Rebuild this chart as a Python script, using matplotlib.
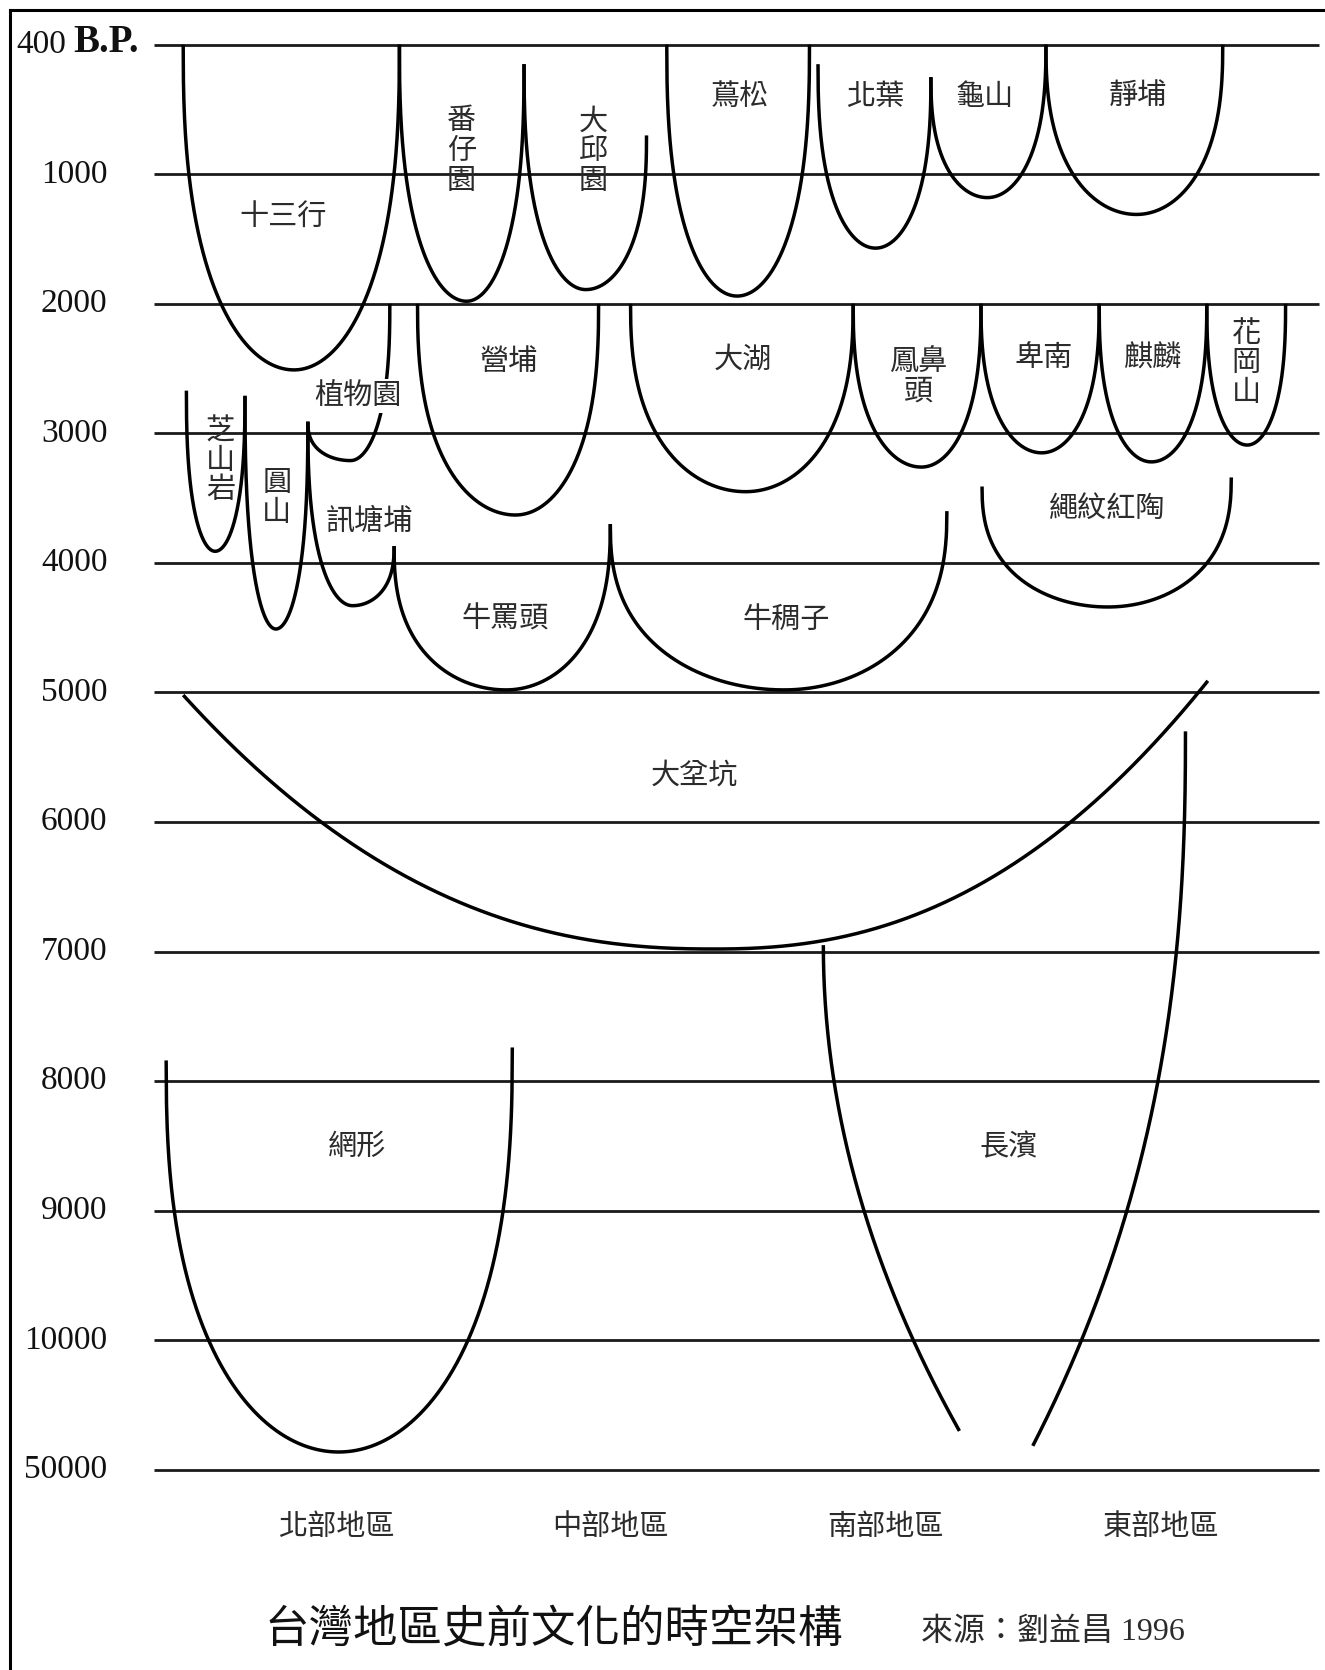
import numpy as np
import matplotlib
matplotlib.use("Agg")
import matplotlib.pyplot as plt
from matplotlib.lines import Line2D

# ---------------- data ----------------
bp_ticks = [400, 1000, 2000, 3000, 4000, 5000, 6000, 7000, 8000, 9000, 10000, 50000]
tick_labels = ["400", "1000", "2000", "3000", "4000", "5000",
               "6000", "7000", "8000", "9000", "10000", "50000"]

regions = ["北部地區", "中部地區", "南部地區", "東部地區"]
region_x = [316, 573, 831, 1090]

culture_names = ["十三行", "番仔園", "大邱園", "蔦松", "北葉", "龜山", "靜埔",
                 "植物園", "營埔", "大湖", "鳳鼻頭", "卑南", "麒麟", "花岡山",
                 "芝山岩", "圓山", "訊塘埔", "牛罵頭", "牛稠子", "繩紋紅陶",
                 "網形", "大坌坑", "長濱"]
x_left = [172, 375, 492, 626, 768, 874, 982,
          289, 392, 592, 801, 921, 1032, 1133,
          175, 230, 289, 370, 573, 922,
          156, 172, 773]
x_bottom = [276, 438, 550, 692, 822, 927, 1067,
            329, 484, 700, 865, 978, 1081, 1171,
            202, 259, 331, 475, 736, 1040,
            318, 670, 941]
x_right = [375, 492, 607, 760, 874, 982, 1148,
           366, 562, 801, 921, 1032, 1133, 1207,
           230, 289, 370, 573, 889, 1156,
           481, 1134, 1113]
bp_left_top = [400, 400, 490, 400, 490, 550, 400,
               2910, 2000, 2000, 2000, 2000, 2000, 2000,
               2670, 2710, 2910, 3870, 3700, 3410,
               7840, 5020, 6950]
bp_earliest = [2510, 1980, 1890, 1940, 1570, 1180, 1310,
               3210, 3630, 3450, 3260, 3150, 3220, 3090,
               3910, 4510, 4330, 4980, 4980, 4340,
               44500, 6980, 60000]
bp_right_top = [400, 490, 820, 400, 550, 400, 400,
                2000, 2000, 2000, 2000, 2000, 2000, 2000,
                2710, 2910, 3870, 3700, 3600, 3340,
                7740, 4910, 5300]
curve_kind = ["U"] * 21 + ["bowl", "open"]
# 長濱: arms drawn only down to these dates (open at the bottom)
open_end_bp = {"長濱": (38000, 42600)}

label_text = ["十三行", "番\n仔\n園", "大\n邱\n園", "蔦松", "北葉", "龜山", "靜埔",
              "植物園", "營埔", "大湖", "鳳鼻\n頭", "卑南", "麒麟", "花\n岡\n山",
              "芝\n山\n岩", "圓\n山", "訊塘埔", "牛罵頭", "牛稠子", "繩紋紅陶",
              "網形", "大坌坑", "長濱"]
label_x = [266, 433, 557, 695, 822, 924, 1068,
           336, 478, 697, 862, 980, 1082, 1170,
           207, 260, 347, 474, 738, 1040,
           335, 652, 947]
label_level = [1.33, 0.82, 0.82, 0.40, 0.40, 0.40, 0.40,
               2.71, 2.45, 2.43, 2.56, 2.42, 2.42, 2.46,
               3.21, 3.50, 3.68, 4.44, 4.44, 3.58,
               8.51, 5.64, 8.51]

title = "台灣地區史前文化的時空架構"
source = "來源：劉益昌 1996"

# ---------------- helpers ----------------
def to_level(bp):
    bp = np.asarray(bp, dtype=float)
    idx = np.arange(len(bp_ticks), dtype=float)
    lv = np.interp(bp, bp_ticks, idx)
    slope = bp_ticks[-1] - bp_ticks[-2]
    return np.where(bp > bp_ticks[-1], idx[-1] + (bp - bp_ticks[-1]) / slope, lv)


def arm(xt, lt, xb, lb, kind, n=500):
    """Arm from bottom (xb, lb) up to top (xt, lt)."""
    s = np.linspace(0.0, 1.0, n)
    x = xb + (xt - xb) * s
    if kind == "U":
        frac = (1.0 - s ** 2) ** 0.4      # round bottom, vertical top
    else:  # bowl
        frac = 1.0 - s ** 2.3
    return x, lt + (lb - lt) * frac


def open_arm(xt, lt, xtip, ltip, lend, power, n=300):
    u = np.linspace(0.0, (lend - lt) / (ltip - lt), n)
    return xt + (xtip - xt) * u ** power, lt + (ltip - lt) * u

# ---------------- figure ----------------
W, H = 1325, 1670
fig = plt.figure(figsize=(W / 100, H / 100), dpi=100)
fig.patch.set_facecolor("white")
ax = fig.add_axes([0, 0, 1, 1])
px_per_level = 121.64
top_px = 42.0
ax.set_xlim(0, 1244)
ax.set_ylim((1568 - top_px) / px_per_level, -top_px / px_per_level)
ax.axis("off")

levels = np.arange(len(bp_ticks))
ax.hlines(levels, 145, 1238, color="#1a1a1a", lw=2.0, zorder=1)

serif = ["Liberation Serif", "DejaVu Serif"]
cjk = ["Noto Sans CJK TC", "DejaVu Sans"]

for lv, t in zip(levels, tick_labels):
    if lv == 0:
        ax.text(62, lv, t, ha="right", va="center", fontsize=24,
                family=serif, color="#111")
        ax.text(69, lv - 0.02, "B.P.", ha="left", va="center", fontsize=28,
                family=serif, fontweight="bold", color="#111")
    else:
        ax.text(101, lv, t, ha="right", va="center", fontsize=24,
                family=serif, color="#111")

# curves
for i, name in enumerate(culture_names):
    ll = float(to_level(bp_left_top[i]))
    lb = float(to_level(bp_earliest[i]))
    lr = float(to_level(bp_right_top[i]))
    kind = curve_kind[i]
    if kind == "open":
        e1, e2 = open_end_bp[name]
        x1, y1 = open_arm(x_left[i], ll, x_bottom[i], lb, float(to_level(e1)), 2.0)
        x2, y2 = open_arm(x_right[i], lr, x_bottom[i], lb, float(to_level(e2)), 2.4)
        ax.plot(x1, y1, color="black", lw=2.5, solid_capstyle="butt", zorder=3)
        ax.plot(x2, y2, color="black", lw=2.5, solid_capstyle="butt", zorder=3)
        continue
    xa, ya = arm(x_left[i], ll, x_bottom[i], lb, kind)
    xc, yc = arm(x_right[i], lr, x_bottom[i], lb, kind)
    xs = np.concatenate([xa[::-1], xc[1:]])
    ys = np.concatenate([ya[::-1], yc[1:]])
    ax.plot(xs, ys, color="black", lw=2.5, solid_capstyle="butt",
            solid_joinstyle="round", zorder=3)

# culture labels
for i, t in enumerate(label_text):
    kw = {}
    if culture_names[i] == "植物園":
        kw["bbox"] = dict(facecolor="white", edgecolor="none", pad=1.5)
    ax.text(label_x[i], label_level[i], t, ha="center", va="center",
            fontsize=21, family=cjk, color="#2b2b2b", linespacing=0.98,
            zorder=5, **kw)

# region labels
for rx, rn in zip(region_x, regions):
    ax.text(rx, 11.44, rn, ha="center", va="center", fontsize=21,
            family=cjk, color="#2b2b2b")

ax.text(520, 12.23, title, ha="center", va="center", fontsize=32,
        family=cjk, color="#111")
ax.text(865, 12.25, source, ha="left", va="center", fontsize=23,
        family=serif + ["Noto Sans CJK TC"], color="#2b2b2b")

# page frame (left and top edges)
fx = 9.5 / 1244
fy = 1 - 9.5 / 1568
fig.add_artist(Line2D([fx, fx], [0, fy], transform=fig.transFigure,
                      color="black", lw=2.2))
fig.add_artist(Line2D([fx, 1], [fy, fy], transform=fig.transFigure,
                      color="black", lw=2.2))

fig.savefig("out.png", dpi=100, facecolor="white")
